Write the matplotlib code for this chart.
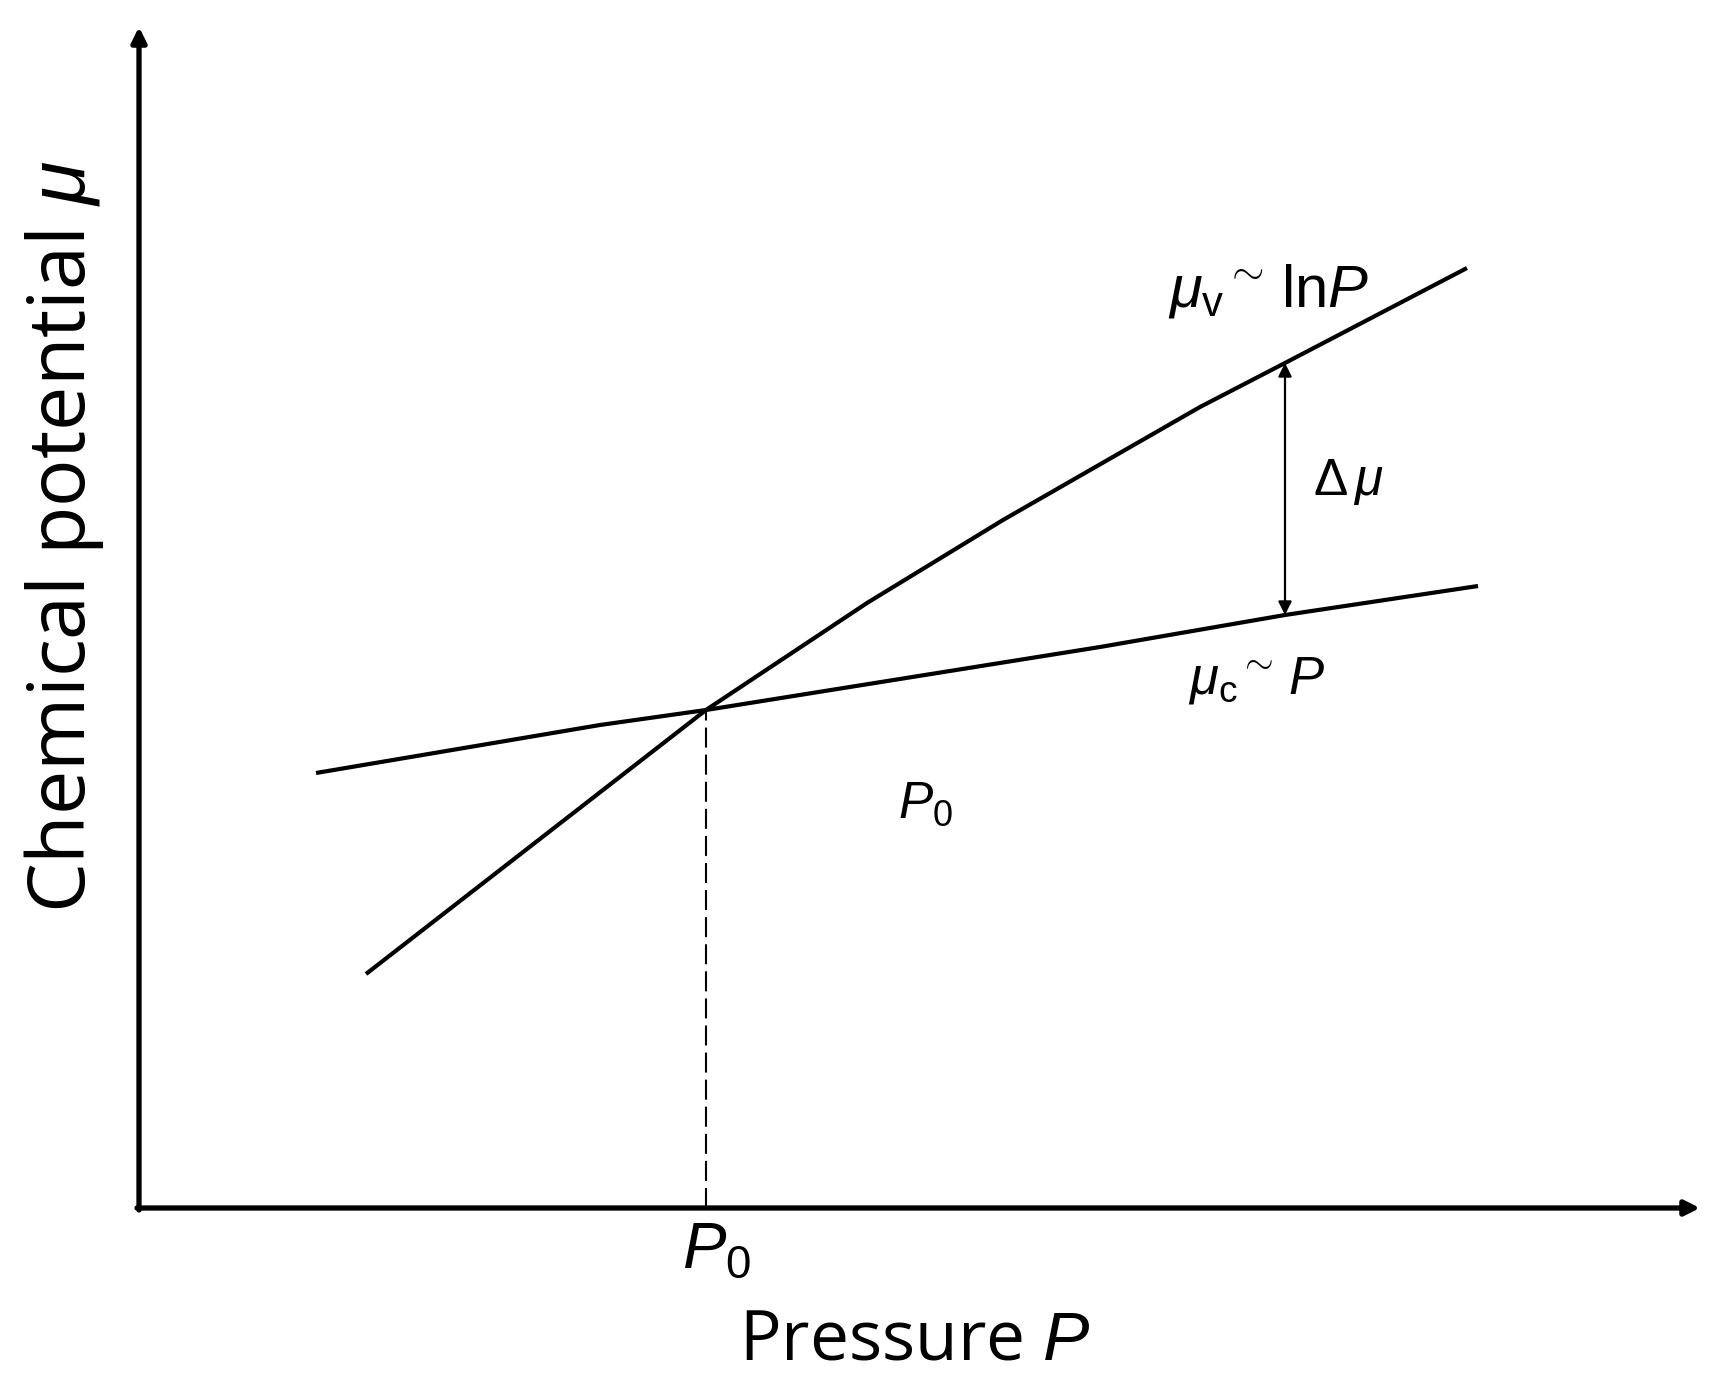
import matplotlib
matplotlib.use("Agg")
import matplotlib.pyplot as plt

plt.rcParams['mathtext.fontset'] = 'custom'
plt.rcParams['mathtext.rm'] = 'Liberation Sans'
plt.rcParams['mathtext.it'] = 'Liberation Sans:italic'
plt.rcParams['mathtext.sf'] = 'Liberation Sans'

# ---- data (arbitrary schematic units) ----
P_vapor = [2.27, 5.67, 7.28, 8.64, 10.61, 11.46, 13.28]
mu_vapor = [2.34, 4.98, 6.05, 6.88, 8.01, 8.45, 9.40]

P_crystal = [1.77, 4.61, 5.67, 9.61, 11.46, 13.39]
mu_crystal = [4.35, 4.83, 4.98, 5.61, 5.93, 6.22]

P0 = 5.67
mu_P0 = 4.98
P_delta = 11.46
mu_delta_top = 8.45
mu_delta_bottom = 5.93

x_axis_end = 15.61
y_axis_end = 11.81

fig = plt.figure(figsize=(17.28, 13.99), dpi=100)
ax = fig.add_axes([0, 0, 1, 1])
ax.set_xlim(-1.39, 15.89)
ax.set_ylim(-1.91, 12.08)
ax.axis('off')

# axes with arrows
ax.annotate('', xy=(x_axis_end, 0), xytext=(-0.02, 0),
            arrowprops=dict(arrowstyle='-|>', color='black', lw=3.8,
                            mutation_scale=22, shrinkA=0, shrinkB=0))
ax.annotate('', xy=(0, y_axis_end), xytext=(0, -0.02),
            arrowprops=dict(arrowstyle='-|>', color='black', lw=3.8,
                            mutation_scale=22, shrinkA=0, shrinkB=0))

# curves
ax.plot(P_vapor, mu_vapor, color='black', lw=3.0, solid_capstyle='butt',
        solid_joinstyle='round')
ax.plot(P_crystal, mu_crystal, color='black', lw=3.0, solid_capstyle='butt',
        solid_joinstyle='round')

# dashed guide at P0
ax.plot([P0, P0], [0, mu_P0], color='black', lw=1.5, dashes=(9.6, 3.4))

# delta mu arrow
ax.annotate('', xy=(P_delta, mu_delta_top), xytext=(P_delta, mu_delta_bottom),
            arrowprops=dict(arrowstyle='<|-|>', color='black', lw=1.6,
                            mutation_scale=20, shrinkA=0, shrinkB=0))

# texts
ax.text(P0 + 0.11, -0.42, r'$P_{\mathit{0}}$', fontsize=47, ha='center', va='center')
ax.text(7.86, 4.04, r'$P_{\mathrm{0}}$', fontsize=37, ha='center', va='center')
ax.text(7.76, -1.34, r'Pressure $P$', fontsize=50, family='Open Sans',
        ha='center', va='center')
ax.text(-0.75, 6.71, r'Chemical potential $\mu$', fontsize=57, family='Open Sans',
        rotation=90, ha='center', va='center')
ax.text(10.29, 9.01, r'$\mu_{\mathrm{v}}{}^{\sim}\,\mathrm{ln}P$', fontsize=43,
        ha='left', va='baseline')
ax.text(10.49, 5.15, r'$\mu_{\mathrm{c}}{}^{\sim}\,P$', fontsize=38,
        ha='left', va='baseline')
ax.text(11.74, 7.26, r'$\Delta\,\mu$', fontsize=37, ha='left', va='center')

fig.savefig('out.png', dpi=100, facecolor='white')
